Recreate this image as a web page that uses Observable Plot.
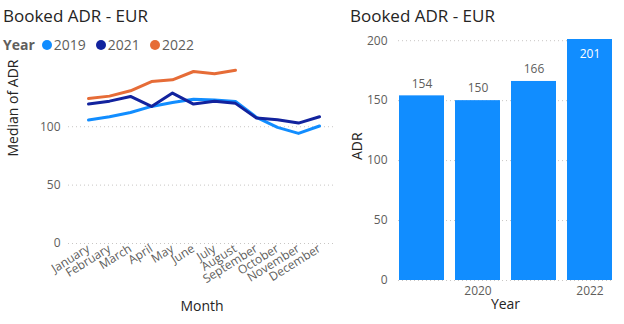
<!DOCTYPE html>
<html><head><meta charset="utf-8">
<script src="https://cdn.jsdelivr.net/npm/d3@7"></script>
<script src="https://cdn.jsdelivr.net/npm/@observablehq/plot@0.6"></script>
<style>
body{margin:0;background:#fff;font-family:"Open Sans","Noto Sans",sans-serif;}
#wrap{position:relative;width:624px;height:324px;overflow:hidden;background:#fff;}
.title{position:absolute;font-size:17px;color:#252423;white-space:nowrap;line-height:20px;}
#legend{position:absolute;left:3px;top:36px;font-size:14px;color:#605E5C;display:flex;align-items:center;white-space:nowrap;line-height:18px;}
#legend .hd{font-weight:bold;margin-right:7px;}
#legend .dot{display:inline-block;width:10px;height:10px;border-radius:50%;margin-right:2px;}
#legend .it{display:flex;align-items:center;margin-right:10px;}
</style></head><body>
<div id="wrap">
  <div class="title" style="left:3px;top:6px">Booked ADR - EUR</div>
  <div id="legend"></div>
  <div id="left" style="position:absolute;left:0;top:55px"></div>
  <div class="title" style="left:350px;top:6px">Booked ADR - EUR</div>
  <div id="right" style="position:absolute;left:340px;top:28px"></div>
</div>
<script>
// ---- data ----
const months = ["January","February","March","April","May","June","July","August","September","October","November","December"];
const lineYears = ["2019","2021","2022"];
const lineColors = ["#118DFF","#12239E","#E66C37"];
const adr2019 = [105.7,108.5,112.2,117.4,120.8,123.6,122.8,121.6,108.0,99.4,94.3,100.6];
const adr2021 = [119.4,121.9,125.9,117.4,128.8,119.4,121.9,120.0,107.4,106.0,103.1,108.5];
const adr2022 = [124.2,126.2,130.8,138.7,140.2,147.3,145.3,148.4];
const lineTicks = [0,50,100];

const barYears = [2019,2020,2021,2022];
const barADR = [154,150,166,201];
const barTicks = [0,50,100,150,200];
const barXTicks = [2020,2022];

// ---- build tables ----
const seriesArrays = [adr2019, adr2021, adr2022];
const lineData = lineYears.flatMap((yr,i) => seriesArrays[i].map((v,j) => ({year:yr, month:months[j], adr:v})));
const barData = barYears.map((y,i) => ({year:y, adr:barADR[i]}));

const font = '"Open Sans","Noto Sans",sans-serif';
const grid = {stroke:"#C8C6C4", strokeDasharray:"1,3", strokeWidth:1, strokeOpacity:1};

// legend
const leg = document.getElementById("legend");
leg.innerHTML = '<span class="hd">Year</span>' + lineYears.map((y,i) =>
  `<span class="it"><span class="dot" style="background:${lineColors[i]}"></span>${y}</span>`).join("");

// ---- left line chart ----
const left = Plot.plot({
  width:340, height:269,
  marginLeft:68, marginRight:5, marginTop:14, marginBottom:81,
  style:{fontFamily:font, fontSize:"12px", color:"#605E5C", background:"transparent"},
  x:{type:"point", domain:months, insetLeft:9, insetRight:6, label:null},
  y:{domain:[0,149], label:null},
  color:{domain:lineYears, range:lineColors},
  marks:[
    Plot.ruleY(lineTicks, grid),
    Plot.axisY({ticks:lineTicks, tickSize:0, tickPadding:8, label:null, fill:"#605E5C", fontSize:12}),
    Plot.axisX({tickSize:0, tickRotate:-32, tickPadding:4, label:null, fill:"#605E5C", fontSize:12}),
    Plot.lineY(lineData, {x:"month", y:"adr", stroke:"year", z:"year", strokeWidth:3}),
    Plot.text(["Month"], {frameAnchor:"bottom", dy:67, fontSize:14, fill:"#252423"}),
    Plot.text(["Median of ADR"], {frameAnchor:"left", dx:-55, rotate:-90, fontSize:14, fill:"#252423"})
  ]
});
document.getElementById("left").appendChild(left);

// ---- right bar chart ----
const right = Plot.plot({
  width:284, height:296,
  marginLeft:58, marginRight:12, marginTop:11, marginBottom:44,
  style:{fontFamily:font, fontSize:"12px", color:"#605E5C", background:"transparent"},
  x:{type:"band", domain:barYears, paddingInner:0.2, paddingOuter:0, label:null},
  y:{domain:[0,201], label:null},
  marks:[
    Plot.ruleY(barTicks, grid),
    Plot.barY(barData, {x:"year", y:"adr", fill:"#118DFF"}),
    Plot.axisY({ticks:barTicks, tickSize:0, tickPadding:11, label:null, fill:"#605E5C", fontSize:12}),
    Plot.axisX({ticks:barXTicks, tickFormat:d => String(d), tickSize:0, tickPadding:6, label:null, fill:"#605E5C", fontSize:12}),
    Plot.text(barData.filter(d => d.adr < 190), {x:"year", y:"adr", text:d => String(d.adr), dy:-12, fontSize:12, fill:"#605E5C"}),
    Plot.text(barData.filter(d => d.adr >= 190), {x:"year", y:"adr", text:d => String(d.adr), dy:15, fontSize:12, fill:"#ffffff"}),
    Plot.text(["Year"], {frameAnchor:"bottom", dy:28, fontSize:14, fill:"#252423"}),
    Plot.text(["ADR"], {frameAnchor:"left", dx:-41, rotate:-90, fontSize:14, fill:"#252423"})
  ]
});
document.getElementById("right").appendChild(right);
</script>
</body></html>
